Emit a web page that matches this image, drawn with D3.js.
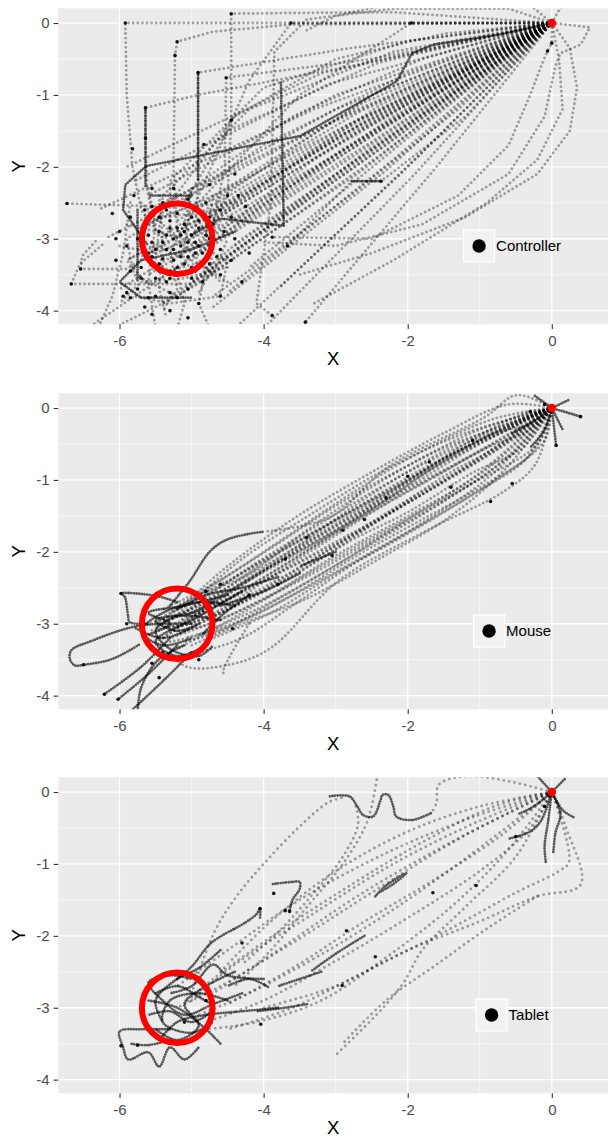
<!DOCTYPE html>
<html>
<head>
<meta charset="utf-8">
<script src="https://cdn.jsdelivr.net/npm/d3@7"></script>
<style>
  body { margin: 0; background: #fff; }
  text { font-family: "Liberation Sans", Arial, sans-serif; }
</style>
</head>
<body>
<script>
// ---- data (x, y in plot units) ----
const deviceLabels = ["Controller", "Mouse", "Tablet"];
const xTicks = [-6, -4, -2, 0];
const yTicks = [0, -1, -2, -3, -4];
const xMinor = [-5, -3, -1];
const yMinor = [-0.5, -1.5, -2.5, -3.5];
const startPoint = [0, 0];
const targetCentre = [-5.2, -3.0];
const targetRadius = 0.49;

// controller: straight moves with sharp turns
const controllerFast = [
  [[0,0],[-5.92,0],[-5.9,-1.0],[-5.82,-2.0],[-5.7,-2.6],[-5.4,-3.0]],
  [[0,0],[-3.62,0],[-4.2,-0.8],[-4.9,-2.4],[-5.1,-2.9]],
  [[0,0],[-1.95,0],[-3.5,-1.0],[-5.0,-2.6]],
  [[0,0],[-2.2,0.15],[-3.6,0.14],[-4.45,0.13],[-4.45,-1.35],[-4.5,-2.4],[-4.8,-2.9]],
  [[0,0],[-3.6,-0.02],[-4.7,-0.12],[-5.2,-0.26],[-5.23,-0.45],[-5.25,-2.0],[-5.2,-2.9]],
  [[0,0],[-2.8,-0.35],[-4.91,-0.69],[-4.91,-2.2],[-4.95,-2.9]],
  [[0,0],[-2.5,-0.5],[-4.52,-0.76],[-4.54,-2.0],[-4.7,-2.8]],
  [[0,0],[-2.8,-0.6],[-4.91,-1.0],[-5.64,-1.18],[-5.64,-1.6],[-5.62,-2.3],[-5.5,-2.9]],
  [[0,0],[-0.6,0.2],[-2.2,0.2],[-3.4,0.05],[-3.85,-0.4],[-3.9,-2.5],[-4.1,-3.9],[-3.88,-4.07]],
  [[0,0],[-2.6,-1.1],[-5.0,-2.6]],
  [[0,0],[-2.7,-1.25],[-5.2,-2.75]],
  [[0,0],[-2.5,-1.3],[-4.9,-2.85]],
  [[0,0],[-2.6,-1.45],[-5.1,-3.0]],
  [[0,0],[-2.8,-1.4],[-5.4,-2.95]],
  [[0,0],[-2.4,-1.5],[-4.8,-3.1]],
  [[0,0],[-2.5,-1.65],[-5.0,-3.25]],
  [[0,0],[-2.7,-1.7],[-5.3,-3.3]],
  [[0,0],[-2.3,-1.7],[-4.6,-3.3]],
  [[0,0],[-2.4,-1.85],[-4.8,-3.55]],
  [[0,0],[-2.6,-1.9],[-5.1,-3.7]],
  [[0,0],[-2.2,-1.9],[-4.5,-3.75]],
  [[0,0],[-2.3,-2.05],[-4.7,-3.95]],
  [[0,0],[-2.1,-2.1],[-4.4,-4.25]],
  [[0,0],[-1.9,-2.1],[-4.0,-4.25]],
  [[0,0],[-1.6,-2.0],[-3.42,-4.16]],
  [[0,0],[-3.0,-1.0],[-5.6,-2.4]],
  [[0,0],[-3.1,-0.85],[-5.8,-2.2]],
  [[0,0],[-3.0,-1.2],[-5.7,-2.7]],
  [[0,0],[-3.2,-0.7],[-5.9,-2.0]],
  [[0,0],[-2.9,-1.55],[-5.6,-3.2]],
  [[0,0],[-2.9,-1.75],[-5.5,-3.6]],
  [[0,0],[-2.8,-2.0],[-5.4,-3.9]],
  [[0,0],[-3.1,-1.7],[-5.9,-3.3]],
  [[0,0],[-3.1,-1.9],[-6.0,-3.7]],
  [[0,0],[-3.3,-1.5],[-6.2,-3.0]],
  [[0,0],[-2.5,-1.0],[-4.7,-2.5]],
  [[0,0],[-2.4,-1.15],[-4.6,-2.65]],
  [[0,0],[-2.2,-1.3],[-4.4,-2.8]],
  [[0,0],[-2.2,-1.55],[-4.4,-3.1]],
  [[0,0],[-2.0,-1.6],[-4.2,-3.4]],
  [[0,0],[-1.8,-1.8],[-3.8,-3.7]],
  [[0,0],[-2.6,-1.6],[-5.2,-3.1]],
  [[0,0],[-2.65,-1.35],[-5.2,-2.9]],
  [[0,0],[-2.75,-1.55],[-5.35,-3.15]],
  [[0,0],[-3.3,-1.2],[-6.3,-2.6]],
  [[0,0],[-2.0,-0.25],[-4.0,-0.9],[-5.3,-2.2],[-5.3,-2.9]],
  [[0,0],[-2.2,-0.4],[-4.2,-1.2],[-5.4,-2.4],[-5.5,-3.3]],
  [[0,0],[-2.4,-0.55],[-4.5,-1.5],[-5.1,-2.5]],
  [[0,0],[-1.8,-0.5],[-3.6,-1.3],[-5.0,-2.3],[-5.1,-3.2]],
  [[0,0],[-2.0,-0.7],[-4.0,-1.7],[-5.3,-2.6]],
  [[0,0],[-1.5,-0.15],[-3.0,-0.5],[-4.4,-1.3],[-5.45,-2.7]],
  [[0,0],[-1.6,-0.9],[-3.3,-1.9],[-4.6,-2.9],[-5.6,-3.5]],
  [[0,0],[-1.4,-1.0],[-3.0,-2.1],[-4.3,-3.0],[-5.0,-3.6]],
  [[0,0],[-1.3,-1.2],[-2.8,-2.4],[-4.0,-3.3],[-4.7,-3.8]],
  [[0,0],[-1.2,-0.65],[-2.9,-1.45],[-4.7,-2.4],[-5.6,-2.8]],
  [[0,0],[-2.8,-1.25],[-5.5,-2.55],[-6.73,-2.51]],
  [[0,0],[-3.0,-1.6],[-5.9,-3.42],[-6.54,-3.42],[-6.52,-3.24],[-6.3,-3.0]],
  [[0,0],[-2.6,-1.8],[-5.0,-3.63],[-6.67,-3.63],[-6.55,-3.35],[-6.2,-3.05]],
  [[0,0],[-2.9,-1.95],[-5.5,-3.6],[-6.45,-4.25]],
  [[0,0],[-2.7,-2.1],[-5.2,-3.8],[-6.1,-4.25]],
  [[-4.6,-2.6],[-5.4,-2.7],[-5.9,-3.0],[-5.8,-3.5],[-5.2,-3.8],[-4.7,-3.5],[-4.5,-3.0]],
  [[-5.9,-2.8],[-5.1,-3.0],[-4.5,-3.3],[-4.6,-3.8],[-5.3,-3.9],[-5.8,-3.8]],
  [[-5.6,-2.3],[-5.5,-2.8],[-5.6,-3.6],[-5.5,-4.25]],
  [[-5.2,-3.5],[-5.1,-3.9],[-5.2,-4.25]],
  [[-4.8,-3.4],[-4.9,-3.9],[-4.75,-4.25]],
  [[-5.85,-2.5],[-5.95,-3.2],[-6.1,-3.8],[-6.3,-4.25]],
  [[-4.4,-2.5],[-5.0,-2.55],[-5.6,-2.75],[-5.75,-3.2],[-5.3,-3.45],[-4.8,-3.3]],
  [[-4.5,-3.6],[-5.0,-3.3],[-5.5,-3.1],[-5.9,-3.3],[-5.6,-3.65]],
  [[-5.0,-2.3],[-5.1,-2.8],[-5.3,-3.2],[-5.2,-3.7],[-5.4,-4.0]],
  [[-4.7,-2.4],[-4.8,-2.9],[-4.7,-3.4],[-4.9,-3.75]],
  [[-5.7,-2.5],[-5.3,-2.9],[-4.9,-3.3],[-4.6,-3.6]],
  [[-6.0,-3.1],[-5.5,-3.2],[-5.0,-3.0],[-4.6,-2.8]],
  [[-5.45,-2.4],[-5.4,-3.0],[-5.45,-3.7],[-5.35,-4.1]],
  [[-4.5,-3.4],[-5.1,-3.55],[-5.7,-3.6],[-6.0,-3.9]],
  [[0,0],[0.25,-0.35],[0.35,-0.9],[0.25,-1.5],[-0.2,-2.1],[-1.2,-2.7],[-2.5,-3.2],[-3.5,-3.5]],
  [[0,0],[0.1,-0.5],[0.15,-1.2],[-0.2,-1.9],[-0.9,-2.5],[-2.2,-3.3],[-3.3,-3.9]],
  [[0,0],[0.53,-0.06],[0.4,-0.3],[0.12,-0.42],[0.05,-0.6],[-0.1,-1.3],[-0.6,-2.1],[-1.8,-2.8],[-3.0,-3.1],[-4.0,-3.05]],
  [[0,0],[0,-0.28],[-0.06,-0.39],[-0.16,-0.63],[-0.3,-1.0],[-0.6,-1.7],[-1.3,-2.4],[-2.5,-3.0],[-3.88,-2.98]],
  [[0,0],[-1.2,-1.3],[-2.37,-2.2],[-2.78,-2.2],[-3.67,-3.1]],
  [[0,0],[0.14,0.25]],
  [[0,0],[-0.3,0.25]],
  [[-3.4,-0.1],[-3.0,0.1],[-2.3,0.25]]
];
const controllerSlow = [
  [[0,0],[-0.72,-0.16],[-1.64,-0.3],[-1.94,-0.42],[-2.15,-0.81],[-3.49,-1.57],[-5.63,-1.99],[-5.92,-2.25],[-5.95,-2.6],[-5.6,-3.1]],
  [[-3.76,-0.83],[-3.72,-2.82],[-4.6,-2.72],[-5.0,-2.95]],
  [[-2.78,-2.2],[-2.37,-2.2]],
  [[-4.91,-0.69],[-4.91,-2.2]],
  [[-5.64,-1.18],[-5.64,-2.3]],
  [[-4.4,-2.9],[-5.0,-3.15],[-5.7,-3.3],[-6.0,-3.6],[-5.7,-3.82],[-5.0,-3.82]],
  [[-5.75,-2.6],[-5.75,-3.6]],
  [[-5.0,-2.4],[-5.6,-2.4]]
];
const controllerStops = [
  [-5.3,-2.75],[-5.1,-2.8],[-5.45,-2.9],[-5.0,-2.95],[-5.25,-3.0],[-5.15,-3.1],[-4.95,-3.05],[-5.35,-3.15],
  [-5.55,-3.05],[-5.05,-3.25],[-4.85,-3.2],[-5.25,-3.3],[-5.45,-3.35],[-5.6,-3.2],[-4.9,-2.85],[-5.2,-2.65],
  [-4.75,-3.0],[-4.7,-2.8],[-5.65,-2.85],[-5.7,-3.4],[-5.5,-3.55],[-5.2,-3.5],[-4.95,-3.45],[-4.75,-3.35],
  [-4.6,-3.15],[-4.55,-2.9],[-4.6,-2.6],[-4.8,-2.5],[-5.05,-2.45],[-5.4,-2.5],[-5.65,-2.6],[-5.85,-2.7],
  [-5.9,-3.1],[-5.85,-3.45],[-5.75,-3.7],[-5.5,-3.8],[-5.3,-3.75],[-5.05,-3.7],[-4.85,-3.6],[-4.6,-3.5],
  [-4.45,-3.3],[-4.4,-3.0],[-4.45,-2.7],[-4.5,-2.4],[-4.75,-2.25],[-5.25,-2.3],[-5.55,-2.3],[-5.8,-2.4],
  [-6.0,-2.9],[-6.05,-3.3],[-5.95,-3.8],[-5.65,-3.95],[-5.3,-4.0],[-4.9,-3.9],[-4.6,-3.8],[-4.3,-3.6],
  [-4.25,-2.55],[-4.2,-3.2],[-5.35,-2.6],[-5.75,-3.0],[-5.0,-3.4],[-5.15,-2.95],[-5.3,-3.45],[-4.65,-3.25],
  [-6.1,-2.65],[-4.4,-2.1],[-5.9,-3.75],[-5.55,-4.05],[-5.05,-4.1],[-4.95,-2.6],
  [-5.4,-3.05],[-5.1,-3.35],[-4.9,-3.1],[-5.3,-2.85],[-5.55,-3.25],[-4.8,-2.95],[-5.0,-2.7],[-5.45,-2.7],
  [-5.7,-3.55],[-5.35,-3.6],[-5.6,-3.82],[-5.85,-3.82],[-5.2,-3.82],[-4.7,-3.05],[-6.05,-3.0],[-4.35,-2.4],
  [-5.2,-2.85],[-5.05,-3.05],[-5.35,-2.95],[-5.5,-3.15],[-5.15,-3.25],[-4.95,-3.2],[-5.4,-3.28],[-5.25,-3.15],
  [-5.1,-2.9],[-5.6,-2.95],[-4.85,-3.35],[-5.3,-3.55],[-4.75,-2.7],[-5.55,-2.55],[-5.0,-3.55],[-5.45,-3.45],
  [-4.9,-2.75],[-5.2,-3.4],
  [-5.92,0],[-3.62,0],[-1.95,0],[-4.45,0.13],[-5.2,-0.26],[-5.23,-0.45],[-4.91,-0.69],[-4.52,-0.76],
  [-5.64,-1.18],[-5.64,-1.6],[-4.45,-1.35],[-5.82,-1.75],[-4.83,-1.69],[-6.73,-2.51],[-6.54,-3.42],
  [-6.67,-3.63],[-3.88,-4.07],[-3.42,-4.16],[-3.88,-2.98],[-3.67,-3.1],[0,-0.28],[-0.06,-0.39],[-2.37,-2.2]
];

// mouse: smooth, noisy moves in a band
const mouseFast = [
  [[0,0],[-1.2,-0.35],[-2.3,-0.85],[-3.3,-1.45],[-4.3,-2.1],[-5.0,-2.7],[-5.3,-2.95]],
  [[0,0],[-0.9,-0.85],[-1.9,-1.45],[-3.0,-2.05],[-4.0,-2.65],[-4.9,-3.05],[-5.25,-3.1]],
  [[0,0],[-1.1,-0.45],[-2.2,-1.0],[-3.2,-1.6],[-4.25,-2.25],[-5.1,-2.85]],
  [[0,0],[-1.0,-0.7],[-2.0,-1.32],[-3.05,-1.95],[-4.1,-2.55],[-5.0,-3.0],[-5.4,-3.05]],
  [[0,0],[-1.05,-0.62],[-2.1,-1.18],[-3.15,-1.78],[-4.2,-2.38],[-5.15,-2.95]],
  [[0,0],[-0.6,0.05],[-1.5,-0.35],[-2.6,-0.95],[-3.6,-1.55],[-4.5,-2.2],[-5.2,-2.8],[-5.5,-3.0]],
  [[0,0],[-0.5,-0.6],[-1.5,-1.3],[-2.6,-1.95],[-3.7,-2.6],[-4.6,-3.1],[-5.1,-3.25]],
  [[0,0],[-0.49,0.18],[-0.92,-0.12],[-2.27,-0.82],[-3.08,-1.52],[-3.99,-1.72]],
  [[0,0],[-0.22,-0.77],[-0.65,-1.15],[-1.73,-1.7],[-2.97,-2.41],[-3.89,-3.33],[-4.43,-3.56],[-5.07,-3.6],[-5.3,-3.4]],
  [[0,0],[-1.3,-0.5],[-2.5,-1.2],[-3.5,-1.9],[-4.4,-2.5],[-5.3,-3.1]],
  [[0,0],[-0.8,-0.6],[-1.7,-1.15],[-2.7,-1.7],[-3.8,-2.3],[-4.8,-2.9],[-5.6,-3.1]],
  [[0,0],[-0.9,-0.4],[-1.8,-0.85],[-2.9,-1.5],[-4.0,-2.15],[-4.9,-2.75],[-5.6,-3.0]],
  [[0,0],[-0.7,-0.75],[-1.6,-1.35],[-2.5,-1.85],[-3.5,-2.4],[-4.5,-2.9],[-5.3,-3.2]],
  [[0,0],[-1.2,-0.55],[-2.4,-1.25],[-3.4,-1.85],[-4.6,-2.55],[-5.5,-3.05]],
  [[0,0],[-1.0,-0.3],[-2.0,-0.8],[-2.9,-1.3],[-3.9,-1.95],[-4.7,-2.45],[-5.4,-2.8]],
  [[0,0],[-0.6,-0.8],[-1.4,-1.5],[-2.4,-2.1],[-3.4,-2.65],[-4.3,-3.0],[-5.0,-3.3]],
  [[0,0],[-1.1,-0.75],[-2.2,-1.4],[-3.3,-2.1],[-4.3,-2.7],[-5.2,-3.15]],
  [[0,0],[-1.4,-0.7],[-2.6,-1.4],[-3.6,-2.0],[-4.5,-2.6],[-5.4,-3.2]],
  [[0,0],[-0.4,-0.35],[-1.3,-0.9],[-2.3,-1.5],[-3.3,-2.15],[-4.4,-2.75],[-5.1,-3.1]],
  [[0,0],[-1.0,-0.5],[-2.0,-1.1],[-3.0,-1.65],[-4.05,-2.3],[-4.9,-2.85],[-5.4,-3.2]],
  [[0,0],[-0.3,-0.1],[-1.5,-0.75],[-2.8,-1.6],[-3.9,-2.3],[-4.8,-2.8],[-5.35,-2.9]],
  [[0,0],[-0.2,-0.5],[-1.2,-1.1],[-2.2,-1.65],[-3.2,-2.2],[-4.3,-2.85],[-5.2,-3.35]],
  [[0,0],[-0.7,-0.25],[-1.6,-0.6],[-2.5,-1.1],[-3.4,-1.7],[-4.2,-2.3],[-4.9,-2.6]],
  [[0,0],[-0.8,-0.9],[-1.8,-1.6],[-2.8,-2.2],[-3.6,-2.75],[-4.3,-3.2],[-4.9,-3.4]],
  [[0,0],[-0.5,-0.2],[-1.4,-0.65],[-2.2,-1.15],[-3.0,-1.7],[-3.9,-2.2],[-4.7,-2.65],[-5.4,-3.0]],
  [[0,0],[-0.4,-0.55],[-1.1,-0.9],[-2.0,-1.45],[-2.8,-1.85],[-3.7,-2.4],[-4.6,-2.85],[-5.2,-3.05]],
  [[0,0],[-0.3,-0.3],[-0.9,-0.55],[-1.7,-1.0],[-2.6,-1.5],[-3.5,-2.05],[-4.4,-2.6],[-5.0,-2.95]],
  [[0,0],[-0.2,-0.2],[-0.8,-0.35],[-1.6,-0.8],[-2.4,-1.35],[-3.4,-1.95],[-4.3,-2.45],[-5.1,-2.9]],
  [[0,0],[-0.6,-0.45],[-1.5,-0.95],[-2.4,-1.55],[-3.3,-2.05],[-4.2,-2.5],[-5.0,-2.9]],
  [[0,0],[-0.35,-0.7],[-1.1,-1.2],[-2.0,-1.75],[-3.0,-2.3],[-3.9,-2.85],[-4.7,-3.2]],
  [[0,0],[-0.8,-0.15],[-1.8,-0.6],[-2.8,-1.2],[-3.7,-1.8],[-4.6,-2.4],[-5.3,-2.85]],
  [[0,0],[-0.15,-0.05],[-0.6,-0.3],[-1.3,-0.6],[-2.1,-1.05],[-3.0,-1.55],[-3.9,-2.05],[-4.8,-2.6],[-5.4,-2.9]],
  [[0,0],[-0.1,-0.45],[-0.7,-0.95],[-1.6,-1.5],[-2.5,-2.0],[-3.4,-2.5],[-4.3,-2.95],[-5.1,-3.2]],
  [[0,0],[-1.0,-0.9],[-2.0,-1.55],[-3.1,-2.25],[-4.1,-2.8],[-4.9,-3.15]],
  [[0,0],[-0.45,-0.1],[-1.2,-0.5],[-1.9,-0.95],[-2.7,-1.4],[-3.6,-1.9],[-4.4,-2.35],[-5.2,-2.75]],
  [[0,0],[-0.25,-0.6],[-0.9,-1.05],[-1.8,-1.55],[-2.7,-2.05],[-3.6,-2.6],[-4.5,-3.05],[-5.3,-3.25]],
  [[0,0],[-0.55,-0.35],[-1.35,-0.8],[-2.25,-1.3],[-3.2,-1.9],[-4.0,-2.4],[-4.75,-2.8],[-5.5,-3.1]],
  [[-4.2,-3.0],[-4.56,-3.65],[-4.55,-3.72]]
];
const mouseSlow = [
  [[-5.0,-3.0],[-5.74,-3.03],[-6.39,-3.24],[-6.67,-3.37],[-6.69,-3.49],[-6.62,-3.58],[-6.49,-3.57],[-6.16,-3.51],[-5.95,-3.42],[-5.71,-3.28]],
  [[-5.2,-2.7],[-5.51,-2.61],[-5.98,-2.58],[-5.93,-2.62],[-5.88,-2.9],[-5.86,-2.98],[-5.6,-3.0]],
  [[-5.3,-3.2],[-5.7,-3.6],[-6.21,-3.98]],
  [[-5.2,-3.3],[-5.6,-3.7],[-6.02,-4.05]],
  [[-5.0,-3.4],[-5.4,-3.8],[-5.88,-4.25]],
  [[-5.1,-3.3],[-5.47,-3.51],[-5.7,-3.89],[-5.75,-4.25]],
  [[-4.7,-2.7],[-5.0,-2.85],[-5.5,-2.95],[-5.2,-3.1],[-4.9,-3.0],[-5.4,-3.2],[-5.8,-3.05]],
  [[-4.5,-2.6],[-5.1,-2.75],[-5.6,-2.85],[-5.3,-3.0],[-5.6,-3.15]],
  [[-4.3,-2.55],[-4.9,-2.9],[-5.5,-3.25],[-5.2,-3.45],[-4.8,-3.3]],
  [[-4.4,-2.75],[-4.9,-2.7],[-5.4,-2.85],[-5.7,-3.1],[-5.4,-3.3],[-5.0,-3.2]],
  [[-4.6,-2.95],[-5.2,-2.9],[-5.5,-3.1],[-5.3,-3.35],[-4.9,-3.45],[-4.7,-3.3]],
  [[-3.8,-2.35],[-4.3,-2.5],[-4.8,-2.6],[-5.2,-2.8]],
  [[-3.5,-2.3],[-4.0,-2.55],[-4.6,-2.75]],
  [[-3.0,-2.0],[-3.5,-2.2]],
  [[-4.2,-2.6],[-4.6,-2.9],[-4.85,-3.15]],
  [[-5.3,-2.75],[-5.02,-2.4],[-4.75,-2.0],[-4.53,-1.84],[-4.2,-1.75],[-3.99,-1.72]],
  [[0,0],[0.4,-0.12]],
  [[0,0],[0.06,-0.52]],
  [[0,0],[-0.1,-0.3],[-0.3,-0.55]],
  [[0,0],[-0.25,0.18]],
  [[0,0],[0.25,0.12]],
  [[0,0],[-0.2,-0.15],[-0.55,-0.35]],
  [[0,0],[0.15,-0.3]]
];
const mouseStops = [
  [-5.98,-2.58],[-6.21,-3.98],[-6.02,-4.05],[-0.55,-1.05],[0.4,-0.12],[0.06,-0.52],[-5.9,-3.0],[-4.43,-3.07],
  [-5.7,-3.05],[-5.4,-3.4],[-5.45,-3.75],[-4.2,-2.6],[-3.8,-2.45],[-3.05,-2.05],[-4.8,-2.55],[-0.85,-1.3],
  [-1.4,-1.1],[-2.6,-1.55],[-2.0,-0.95],[-0.3,-0.05],[-0.1,0.05],[-4.9,-3.5],[-5.55,-3.55],[-6.5,-3.57],
  [-3.4,-1.8],[-2.9,-1.7],[-1.1,-0.45],[-1.7,-0.75],[-3.7,-2.1],[-2.3,-1.25],[-4.6,-2.45]
];

// tablet: fast sparse strokes plus slow squiggles
const tabletFast = [
  [[0,0],[-1.0,-0.4],[-2.2,-1.0],[-3.4,-1.75],[-4.4,-2.4],[-5.0,-2.9]],
  [[0,0],[-1.2,-0.6],[-2.5,-1.4],[-3.6,-2.1],[-4.6,-2.7],[-5.2,-3.0]],
  [[0,0],[-0.9,-0.7],[-2.0,-1.5],[-3.1,-2.2],[-4.2,-2.8],[-4.9,-3.1]],
  [[0,0],[-1.4,-0.7],[-2.7,-1.45],[-3.8,-2.2],[-4.7,-2.8]],
  [[0,0],[-0.6,-0.8],[-1.4,-1.6],[-2.3,-2.3],[-3.2,-2.9],[-4.1,-3.2],[-4.8,-3.3]],
  [[-5.0,-2.8],[-4.68,-1.94],[-4.36,-1.43],[-3.99,-0.99],[-3.52,-0.5],[-3.11,-0.15],[-2.88,-0.07]],
  [[0,0],[-0.6,0.15],[-1.2,0.22],[-1.57,0.1],[-1.6,-0.15],[-1.67,-0.29]],
  [[-2.43,0.17],[-2.5,-0.2],[-2.59,-0.48],[-2.9,-1.0],[-3.4,-1.6],[-3.9,-2.2],[-4.4,-2.7]],
  [[0,0],[-0.5,-0.9],[-1.2,-1.6],[-1.8,-2.2],[-2.05,-2.64],[-2.35,-3.01],[-3.02,-3.68]],
  [[0,0],[-1.0,-0.2],[-2.0,-0.55],[-3.0,-1.1],[-3.9,-1.8],[-4.6,-2.5]],
  [[0,0],[-1.1,-0.35],[-2.3,-0.85],[-3.5,-1.5],[-4.5,-2.2],[-5.2,-2.7]],
  [[0,0],[0.2,-0.5],[0.4,-1.29],[-0.2,-1.45],[-1.0,-1.8],[-2.0,-2.2],[-3.0,-2.7],[-4.0,-3.0]],
  [[0,0],[0.24,-0.97],[0.1,-1.1],[-0.5,-1.4],[-1.5,-1.95],[-2.6,-2.5],[-3.6,-3.0],[-4.5,-3.3]],
  [[0,0],[-0.3,-0.5],[-1.0,-1.1],[-2.0,-1.75],[-3.0,-2.35],[-4.0,-2.9],[-4.8,-3.2]],
  [[0,0],[-0.8,-0.2],[-1.8,-0.7],[-2.8,-1.3],[-3.8,-1.95],[-4.7,-2.6],[-5.1,-2.95]],
  [[-2.72,-0.2],[-2.69,-0.45],[-2.9,-0.9],[-3.3,-1.4],[-3.8,-1.95],[-4.3,-2.4]],
  [[0,0],[-0.7,-0.6],[-1.6,-1.2],[-2.6,-1.8],[-3.6,-2.45],[-4.5,-2.95]],
  [[-0.2,-1.45],[-0.9,-1.9],[-1.6,-2.4],[-2.3,-2.9],[-2.9,-3.5]]
];
const tabletSlow = [
  [[-3.08,-0.06],[-2.81,-0.06],[-2.7,-0.2],[-2.62,-0.32],[-2.48,-0.34],[-2.38,-0.12],[-2.35,-0.04],[-2.27,-0.04],[-2.2,-0.2],[-2.16,-0.34],[-1.94,-0.39],[-1.67,-0.29]],
  [[-2.45,-1.45],[-2.3,-1.3],[-2.02,-1.13],[-2.2,-1.28],[-2.4,-1.4]],
  [[-3.87,-1.28],[-3.6,-1.25],[-3.5,-1.25],[-3.5,-1.35],[-3.6,-1.5],[-3.64,-1.66]],
  [[-4.4,-1.9],[-4.26,-1.82],[-4.1,-1.7],[-4.05,-1.62],[-4.05,-1.75]],
  [[-5.2,-2.6],[-5.0,-2.43],[-4.73,-2.1],[-4.4,-1.9]],
  [[-5.5,-2.8],[-5.2,-2.7],[-4.9,-2.85],[-4.7,-3.0],[-5.0,-3.2],[-5.3,-3.05],[-5.6,-3.1]],
  [[-4.4,-2.5],[-4.8,-2.7],[-5.1,-2.95],[-4.9,-3.25],[-5.2,-3.45],[-5.5,-3.3]],
  [[-4.3,-2.8],[-4.7,-2.95],[-5.1,-3.1],[-5.4,-2.9],[-5.6,-2.65],[-5.3,-2.55],[-5.0,-2.6]],
  [[-3.8,-3.0],[-4.3,-3.05],[-4.8,-3.1],[-5.2,-3.2],[-5.45,-3.45]],
  [[-4.6,-2.2],[-4.9,-2.45],[-5.2,-2.6],[-5.5,-2.9],[-5.4,-3.2]],
  [[-4.5,-2.9],[-4.9,-2.8],[-5.3,-2.9],[-5.4,-3.2],[-5.0,-3.35],[-4.7,-3.2]],
  [[-4.0,-2.6],[-4.5,-2.55],[-4.7,-2.4],[-5.0,-2.7],[-5.3,-2.8]],
  [[-4.6,-3.5],[-4.8,-3.3],[-5.2,-3.0],[-5.6,-2.9]],
  [[-5.3,-3.3],[-5.7,-3.3],[-6.0,-3.33],[-5.95,-3.55],[-5.88,-3.72],[-5.6,-3.62],[-5.45,-3.82],[-5.3,-3.55],[-5.1,-3.72],[-4.9,-3.55]],
  [[-5.3,-3.45],[-5.6,-3.52],[-5.85,-3.5]],
  [[-3.2,-2.5],[-3.5,-2.6],[-3.8,-2.7]],
  [[-3.94,-2.71],[-4.2,-2.6],[-4.5,-2.7]],
  [[-2.6,-2.0],[-3.0,-2.25],[-3.35,-2.5]],
  [[-3.4,-2.95],[-3.7,-3.0],[-4.1,-3.05]],
  [[0,0],[-0.15,-0.4],[-0.3,-0.55],[-0.6,-0.65]],
  [[0,0],[-0.05,-0.4],[-0.1,-0.75],[-0.08,-1.0]],
  [[0,0],[0.12,-0.3],[0.05,-0.57],[0.02,-0.85]],
  [[0,0],[0.2,0.2]],
  [[0,0],[-0.2,0.22]],
  [[0,0],[0.15,-0.25],[0.3,-0.35]],
  [[0,0],[-0.25,-0.2],[-0.45,-0.3]]
];
const tabletStops = [
  [-3.86,-1.41],[-3.64,-1.66],[-4.05,-1.62],[-3.7,-1.65],[-5.98,-3.53],[-5.75,-3.52],[-4.04,-3.23],[-2.45,-2.29],
  [-2.91,-2.69],[-0.5,-0.62],[-2.85,-1.93],[-1.65,-1.4],[-1.05,-1.3],[-4.3,-2.1],[-5.1,-3.2],[-4.8,-2.9],[-0.1,-0.2]
];

// ---- layout ----
const W = 608, H = 1139;
const plotLeft = 58.3, plotRight = 608, plotH = 316;
const panelTops = [8.3, 393.3, 777.3];
const panels = [
  { fast: controllerFast, slow: controllerSlow, stops: controllerStops, curve: d3.curveLinear, gap: 4.6 },
  { fast: mouseFast, slow: mouseSlow, stops: mouseStops, curve: d3.curveCatmullRom, gap: 4.3 },
  { fast: tabletFast, slow: tabletSlow, stops: tabletStops, curve: d3.curveCatmullRom, gap: 5.5 }
];

const svg = d3.select("body").append("svg").attr("width", W).attr("height", H);

const x = d3.scaleLinear().domain([-6.85, 0.78]).range([plotLeft, plotRight]);

panels.forEach((p, i) => {
  const top = panelTops[i];
  const y = d3.scaleLinear().domain([-4.19, 0.205]).range([top + plotH, top]);
  const g = svg.append("g");

  // panel background + grid
  g.append("rect").attr("x", plotLeft).attr("y", top)
    .attr("width", plotRight - plotLeft).attr("height", plotH).attr("fill", "#EBEBEB");
  g.selectAll(".vminor").data(xMinor).join("line")
    .attr("x1", d => x(d)).attr("x2", d => x(d)).attr("y1", top).attr("y2", top + plotH)
    .attr("stroke", "#fff").attr("stroke-width", 0.6);
  g.selectAll(".hminor").data(yMinor).join("line")
    .attr("y1", d => y(d)).attr("y2", d => y(d)).attr("x1", plotLeft).attr("x2", plotRight)
    .attr("stroke", "#fff").attr("stroke-width", 0.6);
  g.selectAll(".vmajor").data(xTicks).join("line")
    .attr("x1", d => x(d)).attr("x2", d => x(d)).attr("y1", top).attr("y2", top + plotH)
    .attr("stroke", "#fff").attr("stroke-width", 1.3);
  g.selectAll(".hmajor").data(yTicks).join("line")
    .attr("y1", d => y(d)).attr("y2", d => y(d)).attr("x1", plotLeft).attr("x2", plotRight)
    .attr("stroke", "#fff").attr("stroke-width", 1.3);

  // clip
  const clipId = "clip" + i;
  svg.append("clipPath").attr("id", clipId).append("rect")
    .attr("x", plotLeft).attr("y", top).attr("width", plotRight - plotLeft).attr("height", plotH);
  const marks = g.append("g").attr("clip-path", `url(#${clipId})`);

  const line = d3.line().x(d => x(d[0])).y(d => y(d[1])).curve(p.curve);

  marks.selectAll(".fast").data(p.fast).join("path")
    .attr("d", line).attr("fill", "none")
    .attr("stroke", "#000").attr("stroke-opacity", 0.34)
    .attr("stroke-width", 2.9).attr("stroke-linecap", "round")
    .attr("stroke-dasharray", `0 ${p.gap}`);

  marks.selectAll(".slow").data(p.slow).join("path")
    .attr("d", line).attr("fill", "none")
    .attr("stroke", "#000").attr("stroke-opacity", 0.62)
    .attr("stroke-width", 2.8).attr("stroke-linecap", "round")
    .attr("stroke-dasharray", "0 2.6");

  marks.selectAll(".stop").data(p.stops).join("circle")
    .attr("cx", d => x(d[0])).attr("cy", d => y(d[1])).attr("r", 1.8)
    .attr("fill", "#000").attr("fill-opacity", 0.9);

  // target ring and start point
  marks.append("circle")
    .attr("cx", x(targetCentre[0])).attr("cy", y(targetCentre[1]))
    .attr("r", x(targetRadius) - x(0))
    .attr("fill", "none").attr("stroke", "#FF0000").attr("stroke-width", 6);
  marks.append("circle")
    .attr("cx", x(startPoint[0])).attr("cy", y(startPoint[1])).attr("r", 4.3)
    .attr("fill", "#FF0000");

  // legend
  const leg = g.append("g");
  const keyW = 31, keyH = 32;
  const label = leg.append("text").attr("font-size", 15).attr("fill", "#000").text(deviceLabels[i]);
  const tw = label.node().getComputedTextLength();
  const legCx = plotLeft + 0.826 * (plotRight - plotLeft);
  const legCy = top + 0.752 * plotH;
  const kx = legCx - (keyW + 1.5 + tw) / 2;
  leg.insert("rect", "text").attr("x", kx).attr("y", legCy - keyH / 2)
    .attr("width", keyW).attr("height", keyH)
    .attr("fill", "#F2F2F2").attr("stroke", "#fff").attr("stroke-width", 1.3);
  leg.insert("circle", "text").attr("cx", kx + keyW / 2).attr("cy", legCy).attr("r", 6.7).attr("fill", "#000");
  label.attr("x", kx + keyW + 1.5).attr("y", legCy + 5.3);

  // axes
  const xa = g.append("g").attr("transform", `translate(0,${top + plotH})`)
    .call(d3.axisBottom(x).tickValues(xTicks).tickSize(4.7).tickPadding(6.6).tickFormat(d => String(d)));
  const ya = g.append("g").attr("transform", `translate(${plotLeft},0)`)
    .call(d3.axisLeft(y).tickValues(yTicks).tickSize(4.7).tickPadding(3.9).tickFormat(d => String(d)));
  [xa, ya].forEach(a => {
    a.select(".domain").remove();
    a.selectAll(".tick line").attr("stroke", "#333").attr("stroke-width", 1.1);
    a.selectAll(".tick text").attr("fill", "#4D4D4D").attr("font-size", 15)
      .attr("font-family", "'Liberation Sans', Arial, sans-serif");
  });

  // titles
  g.append("text").attr("x", (plotLeft + plotRight) / 2).attr("y", top + plotH + 41)
    .attr("text-anchor", "middle").attr("font-size", 18.5).attr("fill", "#000").text("X");
  g.append("text").attr("transform", `translate(25,${top + plotH / 2}) rotate(-90)`)
    .attr("text-anchor", "middle").attr("font-size", 18.5).attr("fill", "#000").text("Y");
});
</script>
</body>
</html>
